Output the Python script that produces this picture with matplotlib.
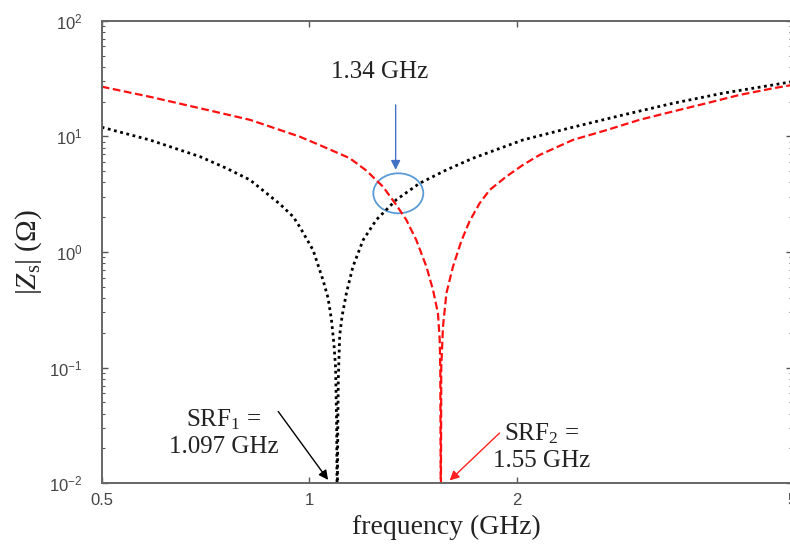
import numpy as np
import matplotlib
matplotlib.use("Agg")
from matplotlib import pyplot as plt
from matplotlib import ticker
from matplotlib.patches import Ellipse

plt.rcParams['font.family'] = ['Liberation Sans', 'DejaVu Sans']
plt.rcParams['mathtext.fontset'] = 'custom'
plt.rcParams['mathtext.rm'] = 'Liberation Serif'
plt.rcParams['mathtext.it'] = 'Liberation Serif:italic'

# |Zs| of resonator 1 (black, dotted), frequency in GHz, impedance in ohm
freq_1 = [0.50, 0.587, 0.694, 0.758, 0.820, 0.906, 0.947, 0.968, 1.012, 1.046,
          1.064, 1.076, 1.085, 1.091, 1.095, 1.097, 1.099, 1.101, 1.106, 1.115,
          1.131, 1.156, 1.196, 1.250, 1.336, 1.444, 1.579, 1.725, 2.038, 2.407,
          2.844, 3.359, 3.969, 4.688, 5.0]
z_1 = [12.0, 9.31, 6.68, 5.30, 4.20, 2.60, 2.02, 1.65, 1.04, 0.574,
       0.40, 0.26, 0.16, 0.10, 0.03, 0.005, 0.03, 0.08, 0.19, 0.28,
       0.44, 0.748, 1.27, 1.90, 2.83, 3.93, 5.13, 6.47, 9.31, 12.0,
       15.3, 19.3, 23.6, 27.8, 29.7]

# |Zs| of resonator 2 (red, dashed)
freq_2 = [0.50, 0.587, 0.694, 0.820, 0.968, 1.035, 1.144, 1.209, 1.278, 1.336,
          1.381, 1.428, 1.477, 1.510, 1.535, 1.544, 1.547, 1.550, 1.552, 1.561,
          1.579, 1.614, 1.660, 1.706, 1.764, 1.824, 1.928, 2.038, 2.154, 2.407,
          2.690, 3.007, 3.359, 3.755, 4.196, 4.688, 5.0]
z_2 = [26.9, 22.0, 17.5, 13.9, 9.94, 8.40, 6.47, 5.06, 3.67, 2.55,
       1.90, 1.27, 0.748, 0.47, 0.296, 0.175, 0.10, 0.005, 0.10, 0.226,
       0.44, 0.748, 1.25, 1.85, 2.64, 3.44, 4.49, 5.66, 6.90, 9.31,
       11.3, 13.9, 16.4, 19.3, 22.8, 26.0, 27.8]

x_ticks = [0.5, 1, 2, 5]
x_tick_labels = ['0.5', '1', '2', '5']

fig = plt.figure(figsize=(7.9, 5.45), dpi=100)
ax = fig.add_axes([0.1287, 0.1132, 0.8738, 0.8488])

ax.plot(freq_1, z_1, color='black', lw=2.0, linestyle=(0, (1, 1.3)),
        dash_capstyle='butt')
ax.plot(freq_2, z_2, color='#ff1010', lw=1.6, linestyle=(0, (3.5, 1.6)),
        dash_capstyle='butt')

ax.set_xscale('log')
ax.set_yscale('log')
ax.set_xlim(0.5, 5)
ax.set_ylim(1e-2, 1e2)

ax.xaxis.set_major_locator(ticker.FixedLocator(x_ticks))
ax.xaxis.set_major_formatter(ticker.FixedFormatter(x_tick_labels))
ax.xaxis.set_minor_locator(ticker.NullLocator())
ax.yaxis.set_major_locator(ticker.LogLocator(base=10))
ax.yaxis.set_minor_locator(ticker.LogLocator(base=10, subs=np.arange(2, 10)))
ax.yaxis.set_minor_formatter(ticker.NullFormatter())

for s in ax.spines.values():
    s.set_color('#666666')
    s.set_linewidth(1.4)
ax.tick_params(which='both', direction='in', top=True, right=True,
               colors='#555555', labelcolor='#444444', labelsize=12)
ax.tick_params(which='major', length=4.5, width=1.0)
ax.tick_params(which='minor', length=2.2, width=0.8)
ax.tick_params(axis='y', pad=14)
ax.tick_params(axis='x', pad=7)

ax.set_xlabel('frequency (GHz)', family='Liberation Serif', fontsize=20,
              color='#222222')
ax.xaxis.set_label_coords(0.5, -0.068)
ax.set_ylabel(r'$|Z_{\mathrm{s}}|$ (Ω)', family='Liberation Serif',
              fontsize=21, color='#222222')
ax.yaxis.set_label_coords(-0.084, 0.5)

serif = dict(family='Liberation Serif', fontsize=18, color='#222222',
             ha='center', va='center')
ax.text(1.264, 36.0, '1.34 GHz', **serif)
ax.text(0.752, 0.0273, 'SRF$_1$ =\n1.097 GHz', **serif)
ax.text(2.168, 0.0207, 'SRF$_2$ =\n1.55 GHz', **serif)

ax.annotate('', xy=(1.333, 5.13), xytext=(1.333, 18.7),
            arrowprops=dict(arrowstyle='-|>', color='#4472c4', lw=1.0,
                            mutation_scale=14, shrinkA=0, shrinkB=0))
ax.annotate('', xy=(1.064, 0.0107), xytext=(0.901, 0.0418),
            arrowprops=dict(arrowstyle='-|>', color='black', lw=1.0,
                            mutation_scale=14, shrinkA=0, shrinkB=0))
ax.annotate('', xy=(1.596, 0.01057), xytext=(1.885, 0.0272),
            arrowprops=dict(arrowstyle='-|>', color='#ff2020', lw=1.0,
                            mutation_scale=14, shrinkA=0, shrinkB=0))

# circle around the crossing point
ax.add_patch(Ellipse((0.4297, 0.6269), 0.0724, 0.0865, transform=ax.transAxes,
                     fill=False, edgecolor='#5b9bd5', lw=1.3))

fig.savefig('out.png', dpi=100)
